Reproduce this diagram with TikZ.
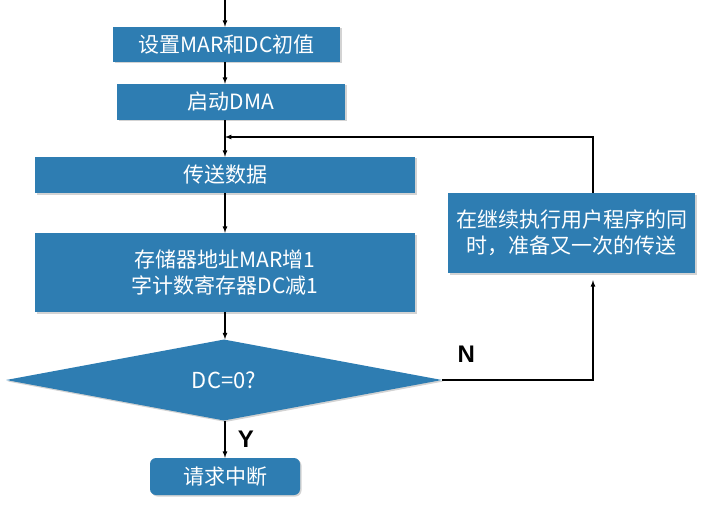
\documentclass[tikz,border=0pt]{standalone}
\usepackage{fontspec}
\setmainfont{Noto Sans CJK SC}
\newfontfamily\ynfont{Liberation Sans}
\usetikzlibrary{positioning,shapes.geometric,shadows,arrows}
\definecolor{flowblue}{RGB}{46,125,178}

\begin{document}
\begin{tikzpicture}[
  x=1pt, y=-1pt,
  font=\fontsize{21}{26}\selectfont,
  blk/.style={fill=flowblue,text=white,align=center,inner sep=0pt,
    drop shadow={shadow xshift=1.5pt,shadow yshift=-1.5pt,opacity=.35}},
  yn/.style={font=\ynfont\bfseries\fontsize{24}{24}\selectfont},
  line/.style={line width=1.2pt,-latex}
    ]
    \useasboundingbox (0,0) rectangle (719,505);
    \coordinate (top) at (225,0);
    \coordinate (join) at (225,137);
    \coordinate (back) at (593,0);
    \node[blk,minimum width=227pt,minimum height=35pt] (init) at (226.5,44.5) {设置MAR和DC初值};
    \node[blk,minimum width=228pt,minimum height=36pt] (start) at (231,102) {启动DMA};
    \node[blk,minimum width=380pt,minimum height=36pt] (xfer) at (225,175) {传送数据};
    \node[blk,minimum width=380pt,minimum height=79pt] (upd) at (225,272.5) {存储器地址MAR增1\\字计数寄存器DC减1};
    \node[blk,diamond,minimum width=436pt,minimum height=66pt,font=\fontsize{22}{26}\selectfont] (test) at (224,380) {DC=0?};
    \node[blk,rounded corners=6pt,minimum width=150pt,minimum height=37pt] (irq) at (225,476.5) {请求中断};
    \node[blk,minimum width=247pt,minimum height=80pt] (cont) at (571.5,233) {在继续执行用户程序的同\\时，准备又一次的传送};
    \draw[line] (top) -- (top |- init.north);
    \draw[line] (init.south -| top) -- (top |- start.north);
    \draw[line] (start.south -| top) -- (top |- xfer.north);
    \draw[line] (xfer.south -| top) -- (top |- upd.north);
    \draw[line] (upd.south -| top) -- (top |- test.north);
    \draw[line] (test.south -| top) -- node[yn,right=9pt] {Y} (top |- irq.north);
    \draw[line] (test.east) -| node[yn,pos=.08,above=14pt] {N} ([yshift=-7pt]cont.south -| back);
    \draw[line] (cont.north -| back) |- (join);
\end{tikzpicture}
\end{document}
